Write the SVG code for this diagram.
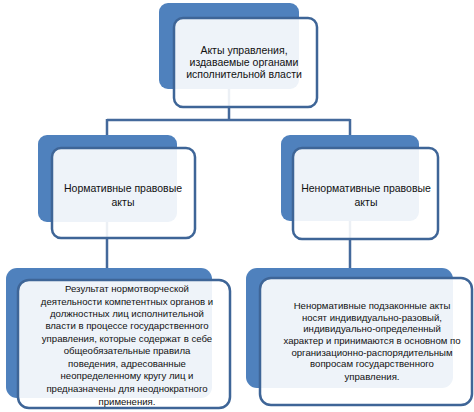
<svg xmlns="http://www.w3.org/2000/svg" width="474" height="412" viewBox="0 0 474 412">
<style>
.back{fill:#4f81bd}
.front{fill:#ffffff;fill-opacity:0.9;stroke:#3e6597;stroke-width:2.5}
.conn{fill:none;stroke:#44699b;stroke-width:2.5}
text{font-family:"Liberation Sans",Arial,sans-serif;fill:#111111;text-anchor:middle}
.t1{font-size:10.5px}
.t2{font-size:9.6px}
</style>
<rect width="474" height="412" fill="#ffffff"/>
<g id="connectors">
<path class="conn" d="M229,60 V120 M107,120 H350 M107,119 V180 M350,119 V180"/>
<path class="conn" d="M107,200 V300 M350,200 V300"/>
</g>
<g id="n_top">
<rect class="back" x="159" y="3" width="140" height="86" rx="9"/>
<rect class="front" x="174" y="18" width="143" height="89" rx="9"/>
<text class="t1" x="244" y="54">Акты управления,</text>
<text class="t1" x="244" y="66">издаваемые органами</text>
<text class="t1" x="244" y="78">исполнительной власти</text>
</g>
<g id="n_left">
<rect class="back" x="38" y="135" width="139" height="87" rx="9"/>
<rect class="front" x="52" y="148" width="143" height="90" rx="9"/>
<text class="t1" x="123" y="192">Нормативные правовые</text>
<text class="t1" x="123" y="206">акты</text>
</g>
<g id="n_right">
<rect class="back" x="281" y="135" width="138" height="86" rx="9"/>
<rect class="front" x="293" y="148" width="145" height="91" rx="9"/>
<text class="t1" x="366" y="192">Ненормативные правовые</text>
<text class="t1" x="366" y="206">акты</text>
</g>
<g id="n_bl">
<rect class="back" x="6" y="268" width="206" height="130" rx="11"/>
<rect class="front" x="18" y="280" width="212" height="128" rx="11"/>
<text class="t2" x="127" y="292">Результат нормотворческой</text>
<text class="t2" x="127" y="305">деятельности компетентных органов и</text>
<text class="t2" x="127" y="317">должностных лиц исполнительной</text>
<text class="t2" x="127" y="329">власти в процессе государственного</text>
<text class="t2" x="127" y="342">управления, которые содержат в себе</text>
<text class="t2" x="127" y="354">общеобязательные правила</text>
<text class="t2" x="127" y="367">поведения, адресованные</text>
<text class="t2" x="127" y="379">неопределенному кругу лиц и</text>
<text class="t2" x="127" y="392">предназначены для неоднократного</text>
<text class="t2" x="127" y="405">применения.</text>
</g>
<g id="n_br">
<rect class="back" x="246" y="268" width="207" height="120" rx="11"/>
<rect class="front" x="260" y="278" width="212" height="127" rx="11"/>
<text class="t2" x="372" y="309">Ненормативные подзаконные акты</text>
<text class="t2" x="372" y="321">носят индивидуально-разовый,</text>
<text class="t2" x="372" y="332">индивидуально-определенный</text>
<text class="t2" x="372" y="344">характер и принимаются в основном по</text>
<text class="t2" x="372" y="356">организационно-распорядительным</text>
<text class="t2" x="372" y="367">вопросам государственного</text>
<text class="t2" x="372" y="380">управления.</text>
</g>
</svg>
